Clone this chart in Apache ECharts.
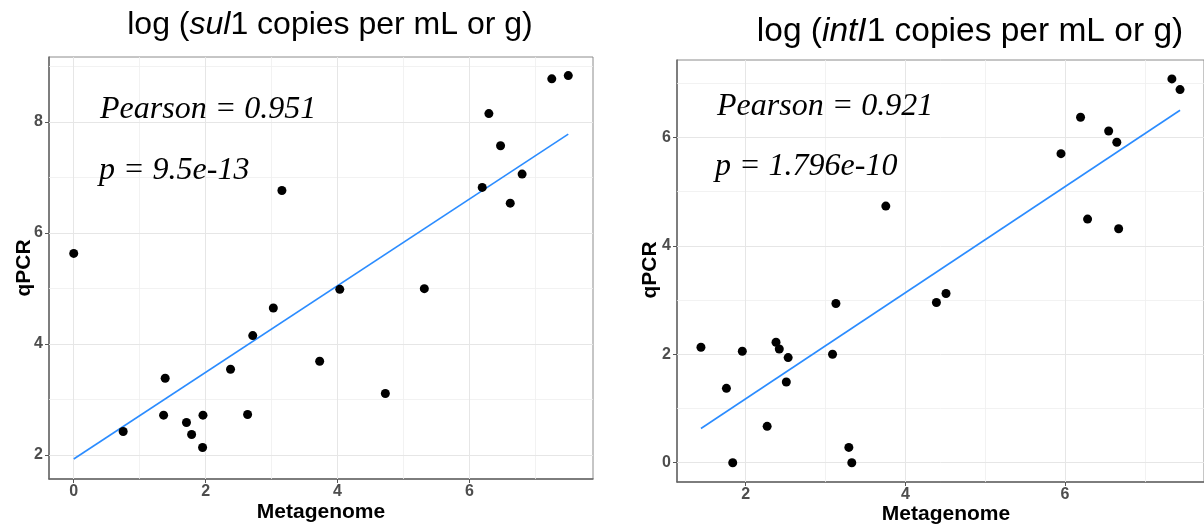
<!DOCTYPE html>
<html>
<head>
<meta charset="utf-8">
<script src="https://cdn.jsdelivr.net/npm/echarts@6/dist/echarts.min.js"></script>
<style>
  html, body { margin: 0; padding: 0; background: #fff; }
  #chart { width: 1204px; height: 527px; }
</style>
</head>
<body>
<div id="chart"></div>
<script>
// sul1: metagenome vs qPCR (log copies)
const sulX = [0, 0.75, 1.363, 1.387, 1.71, 1.788, 1.954, 1.96, 2.378, 2.637, 2.715, 3.027,
              3.157, 3.73, 4.035, 4.726, 5.317, 6.195, 6.296, 6.473, 6.62, 6.80, 7.25, 7.50];
const sulY = [5.63, 2.42, 2.715, 3.38, 2.583, 2.367, 2.133, 2.715, 3.543, 2.727, 4.149, 4.646,
              6.765, 3.687, 4.983, 3.105, 4.995, 6.82, 8.15, 7.57, 6.536, 7.06, 8.776, 8.835];

// intI1: metagenome vs qPCR (log copies)
const intX = [1.44, 1.759, 1.838, 1.958, 2.269, 2.38, 2.421, 2.509, 2.532, 3.088, 3.13, 3.292,
              3.329, 3.755, 4.389, 4.509, 5.949, 6.194, 6.282, 6.546, 6.648, 6.671, 7.338, 7.44];
const intY = [2.129, 1.372, 0.0, 2.055, 0.671, 2.222, 2.098, 1.489, 1.938, 2.0, 2.935, 0.283,
              0.0, 4.732, 2.954, 3.12, 5.698, 6.369, 4.492, 6.117, 5.908, 4.314, 7.077, 6.88];

// tick labels and grid lines
const sulXTicks = [0, 2, 4, 6];
const sulYTicks = [2, 4, 6, 8];
const sulXMinor = [1, 3, 5, 7];
const sulYMinor = [3, 5, 7, 9];
const intXTicks = [2, 4, 6];
const intYTicks = [0, 2, 4, 6];
const intXMinor = [3, 5, 7];
const intYMinor = [1, 3, 5, 7];

// correlation statistics
const pearsonR = ['0.951', '0.921'];
const pValues = ['9.5e-13', '1.796e-10'];

// least-squares fit drawn across the observed x range
function fitLine(xs, ys) {
  const n = xs.length;
  const mx = xs.reduce((a, b) => a + b, 0) / n;
  const my = ys.reduce((a, b) => a + b, 0) / n;
  let sxy = 0, sxx = 0;
  for (let i = 0; i < n; i++) {
    sxy += (xs[i] - mx) * (ys[i] - my);
    sxx += (xs[i] - mx) * (xs[i] - mx);
  }
  const b = sxy / sxx, a = my - b * mx;
  const x0 = Math.min(...xs), x1 = Math.max(...xs);
  return [[x0, a + b * x0], [x1, a + b * x1]];
}

const pairs = (xs, ys) => xs.map((x, i) => [x, ys[i]]);

const tickFont = { fontFamily: 'Liberation Sans', fontWeight: 'bold', fontSize: 16, color: '#4d4d4d' };

// panel grid lines (major every 2, minor halfway between)
function gridLines(xMajor, yMajor, xMinor, yMinor) {
  const major = { color: '#e6e6e6', width: 1, type: 'solid' };
  const minor = { color: '#efefef', width: 0.8, type: 'solid' };
  return {
    z: 1,
    silent: true,
    symbol: ['none', 'none'],
    label: { show: false },
    animation: false,
    emphasis: { disabled: true },
    data: [
      ...xMinor.map(v => ({ xAxis: v, lineStyle: minor })),
      ...yMinor.map(v => ({ yAxis: v, lineStyle: minor })),
      ...xMajor.map(v => ({ xAxis: v, lineStyle: major })),
      ...yMajor.map(v => ({ yAxis: v, lineStyle: major }))
    ]
  };
}

function xAxisDef(gi, min, max, ticks) {
  return {
    type: 'value', gridIndex: gi, min: min, max: max,
    splitLine: { show: false },
    axisLine: { show: true, onZero: false, lineStyle: { color: '#666', width: 1.5 } },
    axisTick: { show: true, customValues: ticks, length: 4, lineStyle: { color: '#555', width: 1 } },
    axisLabel: Object.assign({ customValues: ticks, margin: 5 }, tickFont)
  };
}
function yAxisDef(gi, min, max, ticks) {
  return {
    type: 'value', gridIndex: gi, min: min, max: max,
    splitLine: { show: false },
    axisLine: { show: true, onZero: false, lineStyle: { color: '#666', width: 1.5 } },
    axisTick: { show: true, customValues: ticks, length: 4, lineStyle: { color: '#555', width: 1 } },
    axisLabel: Object.assign({ customValues: ticks, margin: 6 }, tickFont)
  };
}

function textEl(x, y, text, font, opts) {
  return Object.assign({
    type: 'text', x: x, y: y, z: 10, silent: true,
    style: Object.assign({
      text: text, font: font, fill: '#000',
      align: 'center', verticalAlign: 'middle',
      textAlign: 'center', textVerticalAlign: 'middle'
    }, (opts && opts.style) || {})
  }, (opts && opts.el) || {});
}

const chart = echarts.init(document.getElementById('chart'), null, { renderer: 'canvas' });

const titleFont = (size) => ({
  i: { fontStyle: 'italic', fontSize: size, fontFamily: 'Liberation Sans', fill: '#000' }
});

chart.setOption({
  animation: false,
  backgroundColor: '#fff',
  grid: [
    { left: 49, top: 57, width: 544, height: 422, show: true, borderColor: '#8c8c8c', borderWidth: 1, backgroundColor: 'transparent' },
    { left: 677, top: 60, width: 539, height: 422, show: true, borderColor: '#8c8c8c', borderWidth: 1, backgroundColor: 'transparent' }
  ],
  xAxis: [
    xAxisDef(0, -0.375, 7.875, sulXTicks),
    xAxisDef(1, 1.14, 7.74, intXTicks)
  ],
  yAxis: [
    yAxisDef(0, 1.565, 9.17, sulYTicks),
    yAxisDef(1, -0.355, 7.425, intYTicks)
  ],
  series: [
    {
      type: 'line', xAxisIndex: 0, yAxisIndex: 0, z: 2,
      data: fitLine(sulX, sulY), showSymbol: false, symbol: 'none',
      lineStyle: { color: '#2b8cff', width: 1.6 },
      markLine: gridLines(sulXTicks, sulYTicks, sulXMinor, sulYMinor)
    },
    {
      type: 'scatter', xAxisIndex: 0, yAxisIndex: 0, z: 3,
      data: pairs(sulX, sulY), symbolSize: 9,
      itemStyle: { color: '#000', opacity: 1 }
    },
    {
      type: 'line', xAxisIndex: 1, yAxisIndex: 1, z: 2,
      data: fitLine(intX, intY), showSymbol: false, symbol: 'none',
      lineStyle: { color: '#2b8cff', width: 1.6 },
      markLine: gridLines(intXTicks, intYTicks, intXMinor, intYMinor)
    },
    {
      type: 'scatter', xAxisIndex: 1, yAxisIndex: 1, z: 3,
      data: pairs(intX, intY), symbolSize: 9,
      itemStyle: { color: '#000', opacity: 1 }
    }
  ],
  graphic: [
    // panel titles
    {
      type: 'text', x: 330, y: 25, z: 10, silent: true,
      style: {
        text: 'log ({i|sul}1 copies per mL or g)', font: '32px "Liberation Sans"', fill: '#000',
        align: 'center', verticalAlign: 'middle', textAlign: 'center', textVerticalAlign: 'middle',
        rich: titleFont(32)
      }
    },
    {
      type: 'text', x: 970, y: 32, z: 10, silent: true,
      style: {
        text: 'log ({i|intI}1 copies per mL or g)', font: '33.5px "Liberation Sans"', fill: '#000',
        align: 'center', verticalAlign: 'middle', textAlign: 'center', textVerticalAlign: 'middle',
        rich: titleFont(33.5)
      }
    },
    // correlation annotations
    textEl(100, 110, 'Pearson = ' + pearsonR[0], 'italic 32px "Liberation Serif"', { style: { align: 'left', textAlign: 'left' } }),
    textEl(99, 171, 'p = ' + pValues[0], 'italic 32px "Liberation Serif"', { style: { align: 'left', textAlign: 'left' } }),
    textEl(717, 107, 'Pearson = ' + pearsonR[1], 'italic 32px "Liberation Serif"', { style: { align: 'left', textAlign: 'left' } }),
    textEl(715, 167, 'p = ' + pValues[1], 'italic 32px "Liberation Serif"', { style: { align: 'left', textAlign: 'left' } }),
    // axis titles
    textEl(321, 512, 'Metagenome', 'bold 21px "Liberation Sans"'),
    textEl(946, 514, 'Metagenome', 'bold 21px "Liberation Sans"'),
    textEl(24, 268, 'qPCR', 'bold 21px "Liberation Sans"', { el: { rotation: Math.PI / 2 } }),
    textEl(650, 270, 'qPCR', 'bold 21px "Liberation Sans"', { el: { rotation: Math.PI / 2 } })
  ]
});
</script>
</body>
</html>
